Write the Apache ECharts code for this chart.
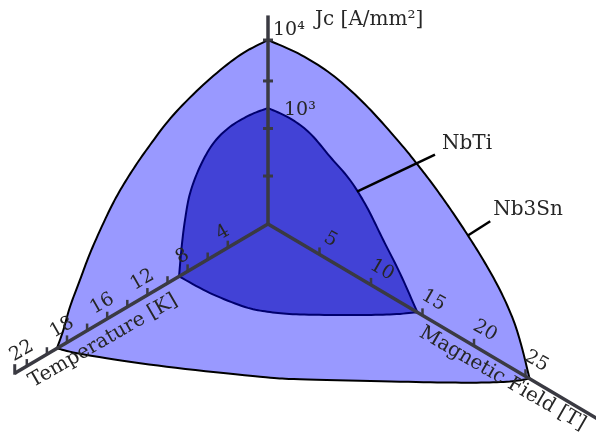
<!DOCTYPE html>
<html>
<head>
<meta charset="utf-8">
<script src="https://cdn.jsdelivr.net/npm/echarts@6/dist/echarts.min.js"></script>
<style>
  html, body { margin: 0; padding: 0; background: #ffffff; }
  #chart { width: 596px; height: 432px; }
</style>
</head>
<body>
<div id="chart"></div>
<script>
// ---- Axes of the critical surface (temperature, magnetic field, log Jc) ----
const jcAxisMin = 19.7;          // A/mm², floor of the log Jc axis (origin)
const jcAxisMax = 23000;         // A/mm², top of the drawn Jc axis
const jcTicks = [100, 500, 2500, 10000];

const tempAxisMax = 25.2;        // K
const tempTicks = [4, 6, 8, 10, 12, 14, 16, 18, 20, 22, 24];
const tempTickLabels = ['4', '', '8', '', '12', '', '16', '', '18', '', '22'];

const fieldAxisMax = 32;         // T
const fieldTicks = [5, 10, 15, 20, 25];
const fieldTickLabels = ['5', '10', '15', '20', '25'];

// ---- Nb3Sn critical surface edges ----
// Jc vs temperature at zero field: [T (K), Jc (A/mm²)]
const nb3snJvsT = [[0, 10000], [2.79, 10500], [6.10, 8270], [9.42, 5220], [11.74, 3005],
  [13.53, 1784], [15.12, 1000], [16.39, 538], [17.71, 254], [18.71, 126], [19.70, 62],
  [20.37, 32], [21.0, 19.7]];
// Jc vs field at zero temperature: [B (T), Jc (A/mm²)]
const nb3snJvsB = [[0, 10000], [3.23, 11700], [6.48, 10960], [9.71, 7570], [12.82, 4285],
  [14.44, 2995], [16.05, 2010], [17.67, 1271], [19.29, 762], [20.90, 433], [22.52, 219],
  [23.82, 103.5], [24.63, 49.6], [25.27, 23], [25.4, 19.7]];
// Upper critical field vs temperature: [T (K), B (T)]
const nb3snBvsT = [[21.0, 0], [20.08, 1.99], [17.08, 6.83], [13.27, 12.17], [11.50, 14.32],
  [6.71, 19.37], [3.47, 22.68], [1.40, 24.54], [0, 25.4]];

// ---- NbTi critical surface edges ----
const nbtiJvsT = [[0, 1000], [1.79, 1130], [3.78, 1130], [5.44, 900], [6.77, 532],
  [7.76, 263], [8.26, 118], [8.59, 51], [8.85, 19.7]];
const nbtiJvsB = [[0, 1000], [2.14, 1096], [4.08, 984], [6.02, 666], [7.96, 451],
  [9.58, 255], [11.19, 115], [12.82, 52], [14.5, 19.7]];
const nbtiBvsT = [[8.85, 0], [8.71, 2.87], [8.14, 5.71], [7.32, 7.34], [6.03, 8.99],
  [3.58, 11.46], [1.55, 13.35], [0, 14.5]];

// Points where the name leaders touch each surface: [T, B, Jc]
const nbtiLeaderAt = [0, 8.64, 350];
const nb3snLeaderAt = [0, 19.44, 740];

// ---- Oblique view of the (T, B, log Jc) space onto the drawing plane ----
const view = { tU: -10.05, tV: -5.92, bU: 10.3, bV: -6.09, jV: 68 };
function project(T, B, J) {
  return [
    view.tU * T + view.bU * B,
    view.tV * T + view.bV * B + view.jV * Math.log10(J / jcAxisMin)
  ];
}

function px(api, T, B, J) { return api.coord(project(T, B, J)); }

// Catmull-Rom smoothing of one edge (render-time only)
function smoothEdge(points, steps) {
  const out = [];
  const n = points.length;
  for (let i = 0; i < n - 1; i++) {
    const p0 = points[Math.max(i - 1, 0)], p1 = points[i], p2 = points[i + 1], p3 = points[Math.min(i + 2, n - 1)];
    for (let s = 0; s < steps; s++) {
      const t = s / steps, t2 = t * t, t3 = t2 * t;
      out.push([0, 1].map(k => 0.5 * (2 * p1[k] + (-p0[k] + p2[k]) * t +
        (2 * p0[k] - 5 * p1[k] + 4 * p2[k] - p3[k]) * t2 +
        (-p0[k] + 3 * p1[k] - 3 * p2[k] + p3[k]) * t3)));
    }
  }
  out.push(points[n - 1].slice());
  return out;
}

function surfaceOutline(api, jT, jB, bT) {
  const right = jB.map(d => px(api, 0, d[0], d[1]));                          // peak -> Bc2
  const bottom = bT.slice().reverse().map(d => px(api, d[0], d[1], jcAxisMin)); // Bc2 -> Tc
  const left = jT.slice().reverse().map(d => px(api, d[0], 0, d[1]));          // Tc -> peak
  return [].concat(smoothEdge(right, 10), smoothEdge(bottom, 10), smoothEdge(left, 10));
}

const surfaces = [
  { name: 'Nb3Sn', jT: nb3snJvsT, jB: nb3snJvsB, bT: nb3snBvsT, fill: '#9999ff', stroke: '#000000' },
  { name: 'NbTi', jT: nbtiJvsT, jB: nbtiJvsB, bT: nbtiBvsT, fill: '#4242d6', stroke: '#00006e' }
];

const axisColor = '#3a3a42';
const textColor = '#262626';
const FONT = '"DejaVu Serif", "Liberation Serif", serif';
const tilt = 30 * Math.PI / 180;

function line(a, b, width, color) {
  return { type: 'line', shape: { x1: a[0], y1: a[1], x2: b[0], y2: b[1] },
    style: { stroke: color || axisColor, lineWidth: width, lineCap: 'butt' } };
}

function text(str, p, dx, dy, opts) {
  const o = opts || {};
  return {
    type: 'text', x: p[0] + dx, y: p[1] + dy, rotation: o.rotation || 0,
    style: {
      text: str, fill: textColor,
      font: (o.size || 20) + 'px ' + FONT,
      align: o.align || 'center', verticalAlign: 'middle',
      textAlign: o.align || 'center', textVerticalAlign: 'middle'
    }
  };
}

function renderAxes(params, api) {
  const o = px(api, 0, 0, jcAxisMin);
  const children = [];
  children.push(line(o, px(api, tempAxisMax, 0, jcAxisMin), 3.5));
  children.push(line(o, px(api, 0, fieldAxisMax, jcAxisMin), 3.5));
  children.push(line(o, px(api, 0, 0, jcAxisMax), 3.5));
  tempTicks.forEach(t => {
    const p = px(api, t, 0, jcAxisMin);
    children.push(line(p, [p[0], p[1] - 7], 2.5));
  });
  const end = px(api, tempAxisMax, 0, jcAxisMin);
  children.push(line([end[0], end[1] + 1.5], [end[0], end[1] - 9], 3));
  fieldTicks.forEach(b => {
    const p = px(api, 0, b, jcAxisMin);
    children.push(line(p, [p[0], p[1] - 7], 2.5));
  });
  jcTicks.forEach(j => {
    const p = px(api, 0, 0, j);
    children.push(line([p[0] - 5, p[1]], [p[0] + 5, p[1]], 3));
  });
  // name leaders
  const a1 = px(api, nbtiLeaderAt[0], nbtiLeaderAt[1], nbtiLeaderAt[2]);
  children.push(line(a1, [a1[0] + 78, a1[1] - 37], 2.5, '#000000'));
  const a2 = px(api, nb3snLeaderAt[0], nb3snLeaderAt[1], nb3snLeaderAt[2]);
  children.push(line(a2, [a2[0] + 22, a2[1] - 14], 2.5, '#000000'));
  return { type: 'group', children };
}

function renderLabels(params, api) {
  const children = [];
  tempTicks.forEach((t, i) => {
    if (!tempTickLabels[i]) return;
    children.push(text(tempTickLabels[i], px(api, t, 0, jcAxisMin), -5, -15, { rotation: tilt, size: 19 }));
  });
  fieldTicks.forEach((b, i) => {
    children.push(text(fieldTickLabels[i], px(api, 0, b, jcAxisMin), 11, -15, { rotation: -tilt, size: 19 }));
  });
  children.push(text('Jc [A/mm²]', px(api, 0, 0, jcAxisMax), 47, 4, { align: 'left' }));
  children.push(text('10⁴', px(api, 0, 0, nb3snJvsB[0][1]), 5, -10, { align: 'left', size: 19 }));
  children.push(text('10³', px(api, 0, 0, nbtiJvsB[0][1]), 16, 2, { align: 'left', size: 19 }));
  children.push(text('Temperature [K]', px(api, 16.4, 0, jcAxisMin), 0, 20, { rotation: tilt }));
  children.push(text('Magnetic Field [T]', px(api, 0, 22.77, jcAxisMin), 0, 16, { rotation: -tilt }));
  const a1 = px(api, nbtiLeaderAt[0], nbtiLeaderAt[1], nbtiLeaderAt[2]);
  children.push(text('NbTi', [a1[0] + 78, a1[1] - 37], 7, -11, { align: 'left' }));
  const a2 = px(api, nb3snLeaderAt[0], nb3snLeaderAt[1], nb3snLeaderAt[2]);
  children.push(text('Nb3Sn', [a2[0] + 22, a2[1] - 14], 3, -12, { align: 'left' }));
  return { type: 'group', children };
}

const chart = echarts.init(document.getElementById('chart'), null, { renderer: 'canvas' });
chart.setOption({
  animation: false,
  backgroundColor: '#ffffff',
  grid: { left: 0, right: 0, top: 0, bottom: 0, containLabel: false },
  xAxis: { type: 'value', min: -268, max: 328, show: false },
  yAxis: { type: 'value', min: -208, max: 224, show: false },
  series: [
    ...surfaces.map(s => ({
      type: 'custom', name: s.name, coordinateSystem: 'cartesian2d', silent: true,
      data: [[0, 0]],
      renderItem: (params, api) => ({
        type: 'polygon',
        shape: { points: surfaceOutline(api, s.jT, s.jB, s.bT) },
        style: { fill: s.fill, stroke: s.stroke, lineWidth: 2, lineJoin: 'miter' }
      })
    })),
    { type: 'custom', name: 'axes', coordinateSystem: 'cartesian2d', silent: true, data: [[0, 0]], renderItem: renderAxes },
    { type: 'custom', name: 'labels', coordinateSystem: 'cartesian2d', silent: true, data: [[0, 0]], renderItem: renderLabels }
  ]
});
</script>
</body>
</html>
